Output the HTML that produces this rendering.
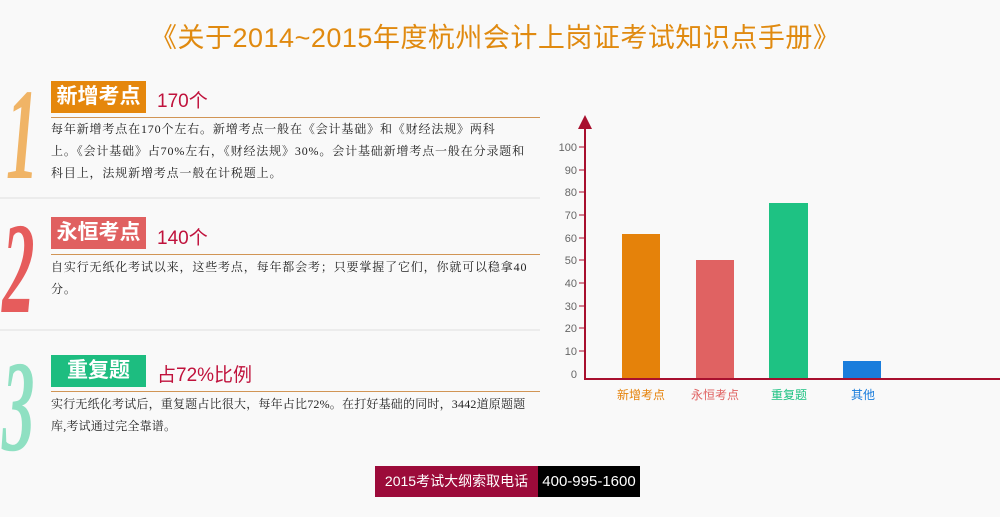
<!DOCTYPE html>
<html><head><meta charset="utf-8"><style>
body{margin:0;width:1000px;height:517px;background:#f9f9f9;position:relative;overflow:hidden;font-family:"Liberation Sans","Noto Sans CJK SC",sans-serif}
.a{position:absolute;white-space:nowrap}
.title{left:150px;top:16px;font-size:27px;color:#e08a10;letter-spacing:0.5px}
.box{height:32px;width:95px;left:51px;color:#fff;font-size:21px;font-weight:bold;text-align:center;line-height:32px}
.num{left:157px;font-size:19px;color:#c0123c}
.ln{left:51px;width:489px;height:1px;background:#d19555}
.sep{left:0;width:540px;height:2px;background:#ececec}
.t{left:51px;font-size:12px;color:#222;line-height:22px;letter-spacing:0.85px;font-family:"Liberation Serif","Noto Serif CJK SC",serif}
.dig{font-family:"Liberation Serif",serif;font-style:italic;font-weight:bold;font-size:130px;transform:scaleX(0.5);transform-origin:left top;line-height:1}
</style></head><body>
<div class="a title">《关于2014~2015年度杭州会计上岗证考试知识点手册》</div>

<div class="a dig" style="left:6px;top:70px;color:#f0b466">1</div>
<div class="a box" style="top:81px;background:#e5870c">新增考点</div>
<div class="a num" style="top:86px">170个</div>
<div class="a ln" style="top:117px"></div>
<div class="a t" style="top:118px">每年新增考点在170个左右。新增考点一般在《会计基础》和《财经法规》两科<br>上。《会计基础》占70%左右，《财经法规》30%。会计基础新增考点一般在分录题和<br>科目上，法规新增考点一般在计税题上。</div>
<div class="a sep" style="top:197px"></div>

<div class="a dig" style="left:2px;top:204px;color:#e65c5c">2</div>
<div class="a box" style="top:217px;background:#e06060">永恒考点</div>
<div class="a num" style="top:223px">140个</div>
<div class="a ln" style="top:254px"></div>
<div class="a t" style="top:256px">自实行无纸化考试以来，这些考点，每年都会考；只要掌握了它们，你就可以稳拿40<br>分。</div>
<div class="a sep" style="top:329px"></div>

<div class="a dig" style="left:2px;top:342px;color:#8fe0c2">3</div>
<div class="a box" style="top:355px;background:#1dbd80">重复题</div>
<div class="a num" style="top:360px">占72%比例</div>
<div class="a ln" style="top:391px"></div>
<div class="a t" style="top:393px;letter-spacing:0.2px">实行无纸化考试后，重复题占比很大，每年占比72%。在打好基础的同时，3442道原题题<br>库,考试通过完全靠谱。</div>

<svg class="a" style="left:0;top:0" width="1000" height="517">
<g stroke="#a8102e" stroke-width="2"><line x1="585" y1="124" x2="585" y2="379"/><line x1="584" y1="379" x2="1000" y2="379"/></g>
<polygon points="585,115 578,129 592,129" fill="#a8102e"/>
<g stroke="#a8102e" stroke-width="1">
<line x1="579" y1="147" x2="585" y2="147"/><line x1="579" y1="170" x2="585" y2="170"/><line x1="579" y1="192" x2="585" y2="192"/><line x1="579" y1="215" x2="585" y2="215"/><line x1="579" y1="238" x2="585" y2="238"/><line x1="579" y1="260" x2="585" y2="260"/><line x1="579" y1="283" x2="585" y2="283"/><line x1="579" y1="306" x2="585" y2="306"/><line x1="579" y1="328" x2="585" y2="328"/><line x1="579" y1="351" x2="585" y2="351"/></g>
<g font-size="11" fill="#666" text-anchor="end" font-family="Liberation Sans">
<text x="577" y="151">100</text><text x="577" y="174">90</text><text x="577" y="196">80</text><text x="577" y="219">70</text><text x="577" y="242">60</text><text x="577" y="264">50</text><text x="577" y="287">40</text><text x="577" y="310">30</text><text x="577" y="332">20</text><text x="577" y="355">10</text><text x="577" y="378">0</text></g>
<rect x="622" y="234" width="38" height="144" fill="#e5820a"/>
<rect x="696" y="260" width="38" height="118" fill="#e06262"/>
<rect x="769" y="203" width="39" height="175" fill="#1ec283"/>
<rect x="843" y="361" width="38" height="17" fill="#1a7ddc"/>
<g font-size="12" text-anchor="middle" font-family="Liberation Sans,Noto Sans CJK SC,sans-serif">
<text x="641" y="399" fill="#e5820a">新增考点</text><text x="715" y="399" fill="#e06262">永恒考点</text><text x="789" y="399" fill="#1ec283">重复题</text><text x="863" y="399" fill="#1a7ddc">其他</text></g>
</svg>

<div class="a" style="left:375px;top:466px;width:163px;height:31px;background:#9c0b3a;color:#fff;font-size:14px;line-height:31px;text-align:center">2015考试大纲索取电话</div>
<div class="a" style="left:538px;top:466px;width:102px;height:31px;background:#000;color:#fff;font-size:15px;line-height:31px;text-align:center">400-995-1600</div>
</body></html>
